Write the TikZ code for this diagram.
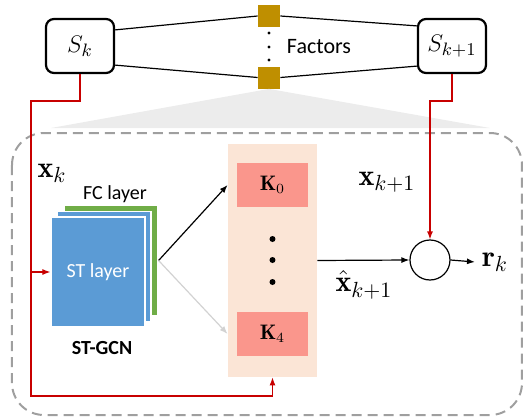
\documentclass[tikz,border=0pt]{standalone}
\usepackage{amsmath,amssymb}
\usepackage{fontspec}
\usepackage{xcolor}
\usepackage{tikz}
\usetikzlibrary{arrows.meta}
\newfontfamily\labelfont{Carlito}
\definecolor{factorgold}{RGB}{191,143,0}
\definecolor{layerblue}{RGB}{91,155,213}
\definecolor{layergreen}{RGB}{112,173,71}
\definecolor{peach}{RGB}{251,229,214}
\definecolor{kred}{RGB}{250,150,140}
\definecolor{linkred}{RGB}{200,0,0}

\begin{document}
\begin{tikzpicture}[x=0.5pt,y=-0.5pt,
  statebox/.style={draw,line width=1.1pt,rounded corners=4pt,minimum width=34pt,
    minimum height=27pt,inner sep=0pt,font=\fontsize{13}{15}\selectfont},
  factor/.style={fill=factorgold,minimum size=11pt,inner sep=0pt},
  layer/.style={draw=white,line width=0.6pt,minimum width=47pt,minimum height=55pt,inner sep=0pt},
  kbox/.style={fill=kred,minimum width=35.5pt,minimum height=22pt,inner sep=0pt,
    font=\fontsize{10.5}{12}\selectfont},
  link/.style={linkred,line width=0.6pt},
  tip/.style={-{Latex[length=4pt,width=3pt]}},
  lbl/.style={font=\fontsize{15}{17}\selectfont}]
  \useasboundingbox (0,0) rectangle (532,418);
  \node[statebox] (sk) at (80,46) {$S_k$};
  \node[statebox] (sk1) at (452,46) {$S_{k+1}$};
  \node[factor] (ftop) at (269,16) {};
  \node[factor] (fbot) at (269,77.5) {};
  \foreach \y in {33,47,60} {
    \fill (269,\y) circle (0.8pt);
  }
  \node[font=\labelfont\fontsize{11}{13}\selectfont] (factors) at (319,47) {Factors};
  \draw[line width=0.6pt] ([yshift=-6pt]sk.north east) -- (ftop.west);
  \draw[line width=0.6pt] ([yshift=4.5pt]sk.south east) -- (fbot.west);
  \draw[line width=0.6pt] (ftop.east) -- ([yshift=-4pt]sk1.north east -| sk1.west);
  \draw[line width=0.6pt] (fbot.east) -- ([yshift=4pt]sk1.south east -| sk1.west);

  \fill[gray!15] (fbot.south) -- (490,128) -- (51,128) -- cycle;
  \draw[gray!75,line width=1pt,dash pattern=on 5pt off 3pt,rounded corners=16pt]
    (12,133) rectangle (522,415);

  \node[layer,fill=layergreen] (fc) at (111,260.5) {};
  \node[layer,fill=layerblue] (mid) at (104,266.5) {};
  \node[layer,fill=layerblue,text=white,font=\labelfont\fontsize{10}{12}\selectfont]
    (st) at (98,272) {ST layer};
  \node[font=\labelfont\fontsize{10}{12}\selectfont] (fclbl) at (115,194) {FC layer};
  \node[font=\labelfont\bfseries\fontsize{10}{12}\selectfont] (gcn) at (102,348) {ST-GCN};

  \node[fill=peach,minimum width=44.5pt,minimum height=116.5pt,inner sep=0pt]
    (bank) at (272.5,260.5) {};
  \node[kbox] (k0) at (272.5,185) {$\mathbf{K}_0$};
  \node[kbox] (k4) at (272.5,334) {$\mathbf{K}_4$};
  \foreach \y in {239,260,282} {
    \fill (272.5,\y) circle (1.5pt);
  }
  \node[draw,circle,minimum size=20pt,inner sep=0pt,line width=0.6pt] (res) at (430,260) {};

  \node[lbl] (xk) at (52,173) {$\mathbf{x}_k$};
  \node[lbl] (xk1) at (387,182) {$\mathbf{x}_{k+1}$};
  \node[lbl] (xhat) at (364,285) {$\hat{\mathbf{x}}_{k+1}$};
  \node[lbl] (rk) at (495,262) {$\mathbf{r}_k$};

  \draw[tip,line width=0.6pt] (fc.east) -- (bank.west |- k0);
  \draw[tip,line width=0.6pt,gray!35] (fc.east) -- (bank.west |- k4);
  \draw[tip,line width=0.6pt] (bank.east) -- (res.west);
  \draw[tip,line width=0.6pt] (res.east) -- (rk.west);

  \coordinate (tap) at (31,272);
  \draw[link,tip] (sk.south) |- (31,101) -- (31,396) -| (bank.south);
  \draw[link,tip] (tap) -- (st.west);
  \draw[link,tip] (sk1.south) |- (430,101) -- (res.north);
\end{tikzpicture}
\end{document}
